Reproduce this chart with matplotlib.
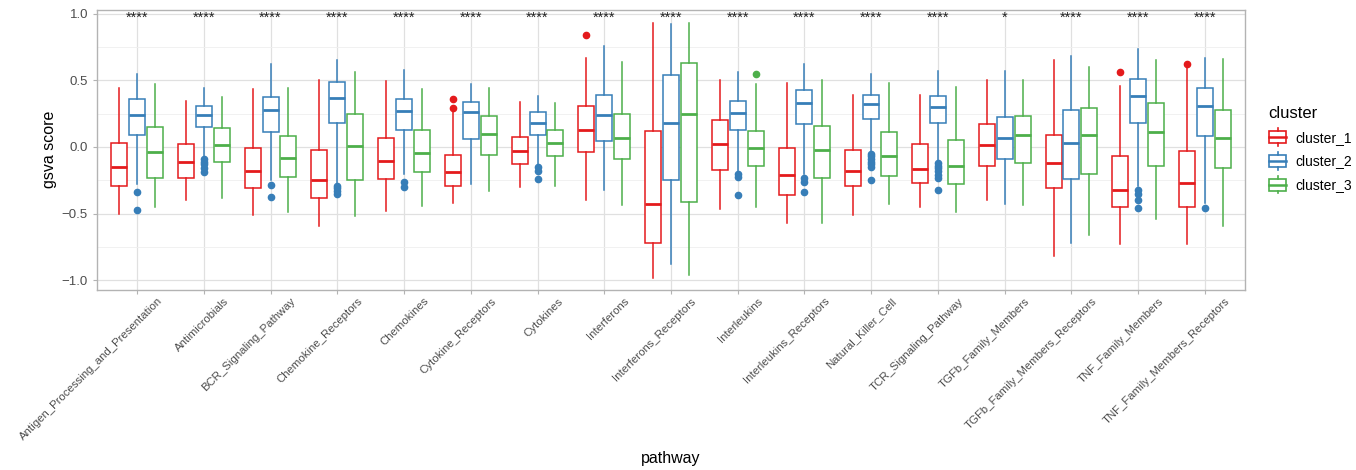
import matplotlib
matplotlib.use("Agg")
import matplotlib.pyplot as plt
from matplotlib.patches import Rectangle, Patch
from matplotlib.lines import Line2D
from matplotlib.legend_handler import HandlerBase
from matplotlib.ticker import MultipleLocator
from matplotlib.transforms import ScaledTranslation, blended_transform_factory

plt.rcParams['font.family'] = ['Liberation Sans', 'DejaVu Sans']

pathways = ["Antigen_Processing_and_Presentation", "Antimicrobials", "BCR_Signaling_Pathway",
            "Chemokine_Receptors", "Chemokines", "Cytokine_Receptors", "Cytokines", "Interferons",
            "Interferons_Receptors", "Interleukins", "Interleukins_Receptors", "Natural_Killer_Cell",
            "TCR_Signaling_Pathway", "TGFb_Family_Members", "TGFb_Family_Members_Receptors",
            "TNF_Family_Members", "TNF_Family_Members_Receptors"]
signif = ["****"] * 13 + ["*"] + ["****"] * 3
clusters = ["cluster_1", "cluster_2", "cluster_3"]
colors = ["#E41A1C", "#377EB8", "#4DAF4A"]

# cluster_1
c1_whishi = [0.445, 0.345, 0.435, 0.50, 0.495, 0.26, 0.34, 0.67, 0.93, 0.50, 0.48, 0.39, 0.39, 0.50, 0.65, 0.46, 0.60]
c1_q3 = [0.03, 0.02, -0.005, -0.025, 0.07, -0.06, 0.075, 0.31, 0.12, 0.20, -0.005, -0.02, 0.02, 0.17, 0.09, -0.07, -0.03]
c1_med = [-0.15, -0.11, -0.18, -0.25, -0.105, -0.19, -0.03, 0.125, -0.425, 0.02, -0.21, -0.18, -0.165, 0.015, -0.12, -0.32, -0.27]
c1_q1 = [-0.29, -0.235, -0.31, -0.38, -0.24, -0.29, -0.13, -0.04, -0.72, -0.17, -0.36, -0.295, -0.27, -0.14, -0.305, -0.45, -0.45]
c1_whislo = [-0.50, -0.40, -0.51, -0.59, -0.48, -0.42, -0.30, -0.395, -0.98, -0.465, -0.57, -0.51, -0.45, -0.40, -0.82, -0.725, -0.725]
c1_out = {5: [0.36, 0.29], 7: [0.84], 15: [0.565], 16: [0.62]}

# cluster_2
c2_whishi = [0.545, 0.44, 0.62, 0.65, 0.58, 0.47, 0.38, 0.755, 0.925, 0.56, 0.62, 0.55, 0.57, 0.57, 0.68, 0.735, 0.67]
c2_q3 = [0.36, 0.31, 0.375, 0.485, 0.36, 0.34, 0.26, 0.39, 0.54, 0.345, 0.43, 0.39, 0.38, 0.225, 0.28, 0.51, 0.44]
c2_med = [0.24, 0.24, 0.28, 0.37, 0.27, 0.26, 0.18, 0.24, 0.18, 0.255, 0.33, 0.32, 0.30, 0.07, 0.03, 0.38, 0.31]
c2_q1 = [0.09, 0.15, 0.11, 0.18, 0.13, 0.06, 0.09, 0.045, -0.245, 0.13, 0.17, 0.21, 0.18, -0.09, -0.24, 0.18, 0.085]
c2_whislo = [-0.275, -0.08, -0.25, -0.27, -0.20, -0.28, -0.14, -0.32, -0.875, -0.18, -0.20, -0.03, -0.10, -0.43, -0.72, -0.29, -0.42]
c2_out = {0: [-0.34, -0.47], 1: [-0.09, -0.11, -0.13, -0.16, -0.19], 2: [-0.285, -0.375],
          3: [-0.29, -0.31, -0.33, -0.35], 4: [-0.26, -0.30], 6: [-0.15, -0.18, -0.24],
          9: [-0.20, -0.225, -0.36], 10: [-0.23, -0.26, -0.34],
          11: [-0.05, -0.07, -0.09, -0.11, -0.13, -0.15, -0.245],
          12: [-0.12, -0.14, -0.16, -0.18, -0.21, -0.23, -0.32],
          15: [-0.32, -0.35, -0.40, -0.46], 16: [-0.46]}

# cluster_3
c3_whishi = [0.47, 0.375, 0.44, 0.56, 0.435, 0.44, 0.33, 0.64, 0.93, 0.475, 0.505, 0.48, 0.45, 0.505, 0.60, 0.65, 0.66]
c3_q3 = [0.15, 0.14, 0.085, 0.245, 0.13, 0.235, 0.13, 0.25, 0.63, 0.12, 0.16, 0.11, 0.05, 0.23, 0.295, 0.33, 0.28]
c3_med = [-0.04, 0.015, -0.08, 0.01, -0.045, 0.095, 0.03, 0.065, 0.25, -0.01, -0.025, -0.065, -0.14, 0.09, 0.09, 0.11, 0.07]
c3_q1 = [-0.23, -0.11, -0.225, -0.245, -0.19, -0.06, -0.065, -0.09, -0.41, -0.14, -0.23, -0.22, -0.28, -0.12, -0.205, -0.14, -0.16]
c3_whislo = [-0.45, -0.38, -0.49, -0.52, -0.445, -0.33, -0.29, -0.435, -0.96, -0.45, -0.57, -0.43, -0.485, -0.435, -0.66, -0.54, -0.59]
c3_out = {9: [0.55]}

series = [
    (c1_whislo, c1_q1, c1_med, c1_q3, c1_whishi, c1_out),
    (c2_whislo, c2_q1, c2_med, c2_q3, c2_whishi, c2_out),
    (c3_whislo, c3_q1, c3_med, c3_q3, c3_whishi, c3_out),
]


class BoxHandler(HandlerBase):
    def create_artists(self, legend, orig_handle, xdescent, ydescent, width, height, fontsize, trans):
        col = orig_handle.get_edgecolor()
        cx = width / 2 - xdescent
        bw, bh = width * 0.9, height * 0.75
        y0 = -ydescent + (height - bh) / 2
        arts = [
            Rectangle((cx - bw / 2, y0), bw, bh, facecolor="white", edgecolor=col, lw=1.2),
            Line2D([cx - bw / 2, cx + bw / 2], [y0 + bh / 2] * 2, color=col, lw=1.8),
            Line2D([cx, cx], [-ydescent - height * 0.05, y0], color=col, lw=1.2),
            Line2D([cx, cx], [y0 + bh, -ydescent + height * 1.05], color=col, lw=1.2),
        ]
        for a in arts:
            a.set_transform(trans)
        return arts


fig = plt.figure(figsize=(13.56, 4.70), dpi=100)
ax = fig.add_axes([97 / 1356, 1 - 290 / 470, 1148 / 1356, 280.5 / 470])

dodge = 0.267
for k, (lo, q1, med, q3, hi, out) in enumerate(series):
    stats = []
    for i in range(len(pathways)):
        stats.append(dict(whislo=lo[i], q1=q1[i], med=med[i], q3=q3[i], whishi=hi[i],
                          fliers=out.get(i, [])))
    pos = [i + 1 + (k - 1) * dodge for i in range(len(pathways))]
    col = colors[k]
    ax.bxp(stats, positions=pos, widths=0.24, patch_artist=True, showcaps=False,
           boxprops=dict(facecolor="white", edgecolor=col, lw=1.1),
           medianprops=dict(color=col, lw=2.0),
           whiskerprops=dict(color=col, lw=1.1),
           flierprops=dict(marker="o", markerfacecolor=col, markeredgecolor=col, markersize=4.5),
           zorder=3)

for i, s in enumerate(signif):
    ax.text(i + 1, 0.94, s, ha="center", va="baseline", fontsize=10.5, color="#222222", zorder=4)

ax.set_xlim(0.4, 17.6)
ax.set_ylim(-1.073, 1.031)
ax.set_xticks(range(1, len(pathways) + 1))
ax.set_xticklabels([])
# rotated category labels, shifted right of the tick like ggplot's hjust=1
lab_tr = blended_transform_factory(ax.transData, ax.transAxes) + \
    ScaledTranslation(20 / 100, -6 / 100, fig.dpi_scale_trans)
for i, name in enumerate(pathways):
    ax.text(i + 1, 0, name, transform=lab_tr, rotation=45, ha="right", va="top",
            rotation_mode="anchor", fontsize=8.2, color="#4D4D4D", clip_on=False)

ax.yaxis.set_major_locator(MultipleLocator(0.5))
ax.yaxis.set_minor_locator(MultipleLocator(0.25))
ax.set_yticks([-1.0, -0.5, 0.0, 0.5, 1.0])
ax.set_yticklabels(["\u22121.0", "\u22120.5", "0.0", "0.5", "1.0"], fontsize=9.5, color="#4D4D4D")
ax.tick_params(axis="both", which="major", length=3, color="#B3B3B3", width=0.8)
ax.tick_params(axis="y", which="minor", length=0)
ax.grid(True, which="major", color="#E0E0E0", lw=0.9, zorder=0)
ax.grid(True, which="minor", axis="y", color="#EFEFEF", lw=0.6, zorder=0)
ax.set_axisbelow(True)
for sp in ax.spines.values():
    sp.set_color("#B3B3B3")
    sp.set_linewidth(1.0)

ax.set_ylabel("gsva score", fontsize=11.5)
ax.yaxis.set_label_coords(-0.035, 0.5)
ax.set_xlabel("pathway", fontsize=11.5)
ax.xaxis.set_label_coords(0.5, -0.575)

handles = [Patch(edgecolor=c, facecolor="white", label=l) for c, l in zip(colors, clusters)]
leg = fig.legend(handles=handles, title="cluster", loc="upper left",
                 bbox_to_anchor=(1256 / 1356, 1 - 94 / 470), frameon=False,
                 handler_map={Patch: BoxHandler()}, fontsize=10, title_fontsize=12,
                 handlelength=1.3, handleheight=1.4, labelspacing=0.55, handletextpad=0.6)
leg._legend_box.align = "left"

fig.savefig("out.png", dpi=100)
